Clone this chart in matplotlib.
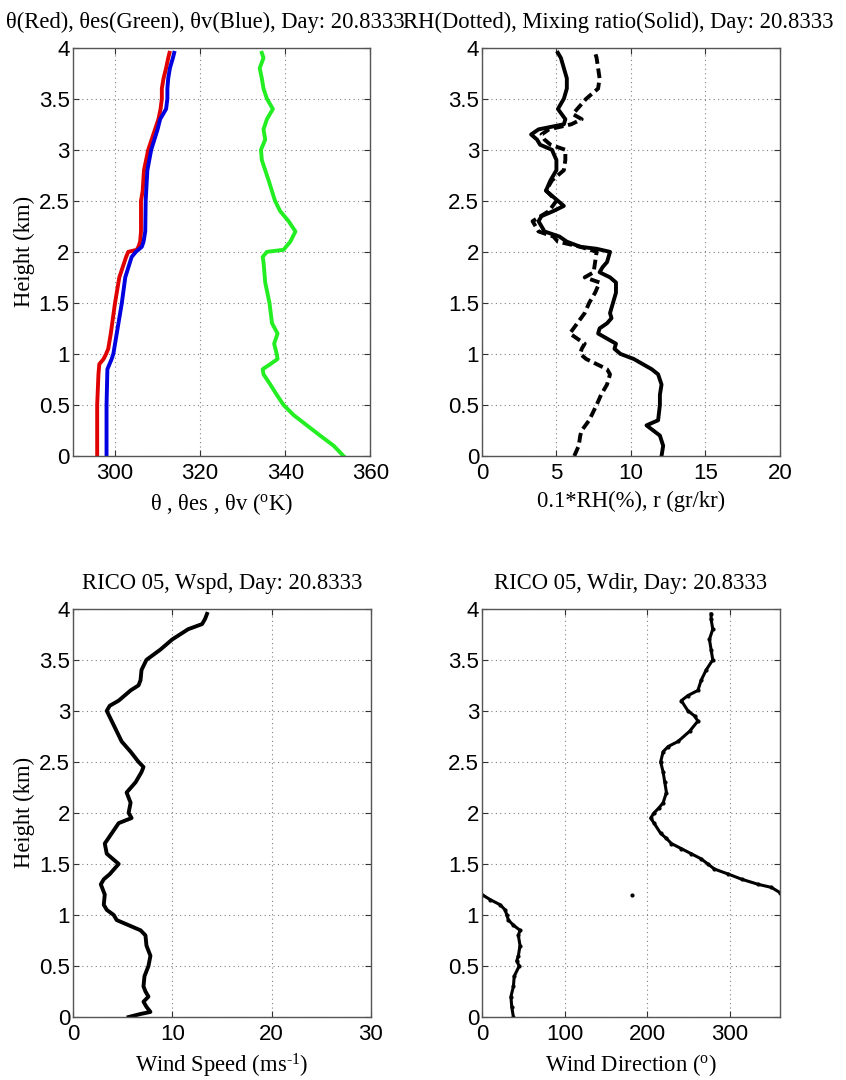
import numpy as np
import matplotlib
matplotlib.use("Agg")
import matplotlib.pyplot as plt
from matplotlib import font_manager
from matplotlib.ticker import FormatStrFormatter

# --- data (height in km) ---
h_theta = [0, 0.5, 0.8, 0.9, 0.95, 1.0, 1.05, 1.2, 1.5, 1.75, 1.95, 2.0, 2.02, 2.05, 2.1,
           2.2, 2.5, 2.6, 2.8, 2.9, 3.0, 3.1, 3.2, 3.3, 3.4, 3.5, 3.6, 3.7, 3.8, 3.9, 3.95]
theta = [295.8, 295.8, 296.1, 296.3, 297.3, 297.9, 298.4, 299.0, 300.0, 301.0, 302.6, 303.1,
         305.1, 305.5, 305.9, 306.1, 306.1, 306.5, 306.8, 307.3, 307.8, 308.6, 309.4, 310.2,
         310.7, 311.0, 311.0, 311.4, 312.0, 312.5, 312.8]

h_thetav = [0, 0.5, 0.85, 0.9, 0.95, 1.0, 1.2, 1.5, 1.75, 1.95, 2.0, 2.05, 2.1, 2.2, 2.5,
            2.8, 3.0, 3.2, 3.3, 3.4, 3.5, 3.6, 3.7, 3.8, 3.9, 3.95]
thetav = [298.0, 298.0, 298.2, 298.7, 299.2, 299.6, 300.4, 301.6, 302.4, 303.9, 304.9, 306.3,
          306.7, 307.1, 307.2, 307.6, 308.5, 310.0, 310.6, 312.0, 312.3, 312.3, 312.5, 312.9,
          313.6, 313.9]

h_thetaes = [0, 0.1, 0.2, 0.3, 0.4, 0.5, 0.6, 0.7, 0.8, 0.85, 0.9, 0.95, 1.0, 1.1, 1.2, 1.3,
             1.5, 1.7, 1.9, 1.95, 2.0, 2.02, 2.1, 2.2, 2.3, 2.4, 2.5, 2.7, 2.9, 3.0, 3.1, 3.2,
             3.3, 3.4, 3.5, 3.6, 3.7, 3.8, 3.9, 3.95]
thetaes = [353.7, 351.4, 348.2, 345.1, 342.0, 339.6, 338.0, 336.5, 334.9, 334.7, 336.5, 338.2,
           338.0, 337.4, 338.2, 336.9, 336.3, 335.3, 334.9, 334.7, 335.7, 339.6, 341.2, 342.4,
           340.8, 338.8, 337.6, 336.1, 334.5, 334.3, 335.3, 334.9, 335.7, 337.1, 335.7, 334.9,
           334.5, 334.0, 334.9, 334.5]

h_mix = [0, 0.1, 0.2, 0.25, 0.3, 0.35, 0.5, 0.6, 0.7, 0.8, 0.85, 0.9, 0.95, 1.0, 1.05, 1.1,
         1.15, 1.2, 1.25, 1.3, 1.35, 1.4, 1.5, 1.6, 1.7, 1.75, 1.8, 1.85, 1.9, 2.0, 2.03, 2.05,
         2.1, 2.15, 2.2, 2.3, 2.35, 2.4, 2.45, 2.5, 2.6, 2.7, 2.8, 2.9, 3.0, 3.05, 3.1, 3.15,
         3.2, 3.25, 3.3, 3.4, 3.5, 3.6, 3.7, 3.8, 3.9, 3.95]
mixr = [12.06, 12.17, 11.95, 11.5, 11.05, 11.83, 11.95, 11.95, 12.06, 11.83, 11.4, 10.8, 10.2,
        9.3, 8.9, 9.0, 8.4, 7.8, 7.9, 8.4, 8.7, 8.6, 8.8, 9.0, 9.0, 8.6, 7.9, 8.1, 8.4, 8.6,
        7.7, 6.6, 5.7, 5.2, 4.2, 3.8, 4.0, 4.8, 5.5, 5.1, 4.3, 4.6, 5.0, 5.0, 4.7, 3.9, 3.7,
        3.3, 3.8, 5.5, 5.6, 5.1, 5.5, 5.7, 5.7, 5.5, 5.3, 5.1]

h_rh = [0, 0.1, 0.2, 0.25, 0.35, 0.5, 0.6, 0.7, 0.8, 0.85, 0.9, 0.95, 1.0, 1.05, 1.1, 1.15,
        1.2, 1.3, 1.4, 1.5, 1.6, 1.7, 1.75, 1.8, 1.9, 2.0, 2.05, 2.1, 2.15, 2.2, 2.3, 2.4, 2.5,
        2.6, 2.7, 2.8, 2.9, 3.0, 3.05, 3.1, 3.15, 3.2, 3.25, 3.3, 3.35, 3.4, 3.5, 3.6, 3.7,
        3.8, 3.9, 3.95]
rh01 = [6.2, 6.5, 6.6, 6.7, 7.2, 7.7, 8.0, 8.4, 8.6, 8.4, 7.7, 7.0, 6.6, 6.7, 6.9, 6.4, 5.9,
        6.4, 6.9, 7.2, 7.6, 7.9, 6.9, 7.5, 7.6, 7.7, 6.6, 5.1, 4.8, 3.8, 3.4, 4.5, 5.0, 4.3,
        4.7, 5.5, 5.6, 5.6, 4.6, 4.2, 4.0, 4.5, 6.0, 6.7, 6.1, 6.4, 7.0, 7.8, 7.9, 7.8, 7.7,
        7.6]

h_wspd = [0, 0.03, 0.05, 0.1, 0.15, 0.2, 0.25, 0.3, 0.4, 0.5, 0.6, 0.7, 0.8, 0.85, 0.9, 0.95,
          1.0, 1.05, 1.1, 1.2, 1.3, 1.35, 1.4, 1.5, 1.6, 1.7, 1.8, 1.9, 1.95, 2.0, 2.1, 2.2,
          2.3, 2.4, 2.45, 2.5, 2.6, 2.7, 2.8, 2.9, 3.0, 3.05, 3.1, 3.2, 3.25, 3.3, 3.4, 3.5,
          3.55, 3.6, 3.7, 3.8, 3.85, 3.9, 3.95]
wspd = [5.6, 6.8, 7.8, 7.4, 7.1, 7.6, 7.3, 7.1, 7.2, 7.6, 7.8, 7.4, 7.3, 6.8, 5.6, 4.4, 4.1,
        3.4, 3.1, 3.2, 2.8, 3.1, 3.7, 4.6, 3.4, 3.2, 3.9, 4.6, 5.9, 5.6, 5.8, 5.4, 6.3, 6.9,
        7.1, 6.6, 5.8, 4.9, 4.4, 3.9, 3.4, 3.7, 4.6, 5.8, 6.6, 6.8, 6.9, 7.4, 8.1, 8.8, 10.0,
        11.6, 13.0, 13.3, 13.5]

h_wdir_low = [0, 0.1, 0.2, 0.3, 0.4, 0.5, 0.55, 0.6, 0.7, 0.8, 0.85, 0.9, 0.95, 1.0, 1.05,
              1.1, 1.15, 1.2]
wdir_low = [38, 36, 35, 38, 39, 45, 42, 44, 46, 44, 46, 38, 32, 30, 28, 22, 10, 0]

h_wdir_high = [1.22, 1.27, 1.3, 1.35, 1.4, 1.45, 1.5, 1.55, 1.6, 1.65, 1.7, 1.75, 1.8, 1.9,
               1.95, 2.0, 2.05, 2.1, 2.2, 2.3, 2.4, 2.5, 2.6, 2.65, 2.7, 2.8, 2.9, 2.95, 3.0,
               3.1, 3.15, 3.2, 3.3, 3.4, 3.5, 3.6, 3.7, 3.8, 3.9, 3.95]
wdir_high = [360, 350, 334, 314, 298, 281, 273, 265, 253, 241, 229, 223, 216, 208, 204, 208,
             214, 219, 223, 221, 219, 216, 219, 225, 237, 251, 261, 257, 249, 241, 249, 261,
             265, 271, 279, 277, 275, 279, 277, 277]

h_wdir_odd = [1.2]
wdir_odd = [181]

day = "20.8333"

# --- fonts ---
names = {f.name for f in font_manager.fontManager.ttflist}
tick_font = "Liberation Sans Narrow" if "Liberation Sans Narrow" in names else "Liberation Sans"
tick_size = 19 if tick_font == "Liberation Sans Narrow" else 16
serif = ["Liberation Serif", "DejaVu Serif"]

plt.rcParams["font.family"] = serif
plt.rcParams["mathtext.fontset"] = "custom"
plt.rcParams["mathtext.rm"] = "Liberation Serif"
plt.rcParams["mathtext.it"] = "Liberation Serif:italic"
plt.rcParams["mathtext.bf"] = "Liberation Serif:bold"

fig = plt.figure(figsize=(8.46, 10.8), dpi=100)

ax_w, ax_h = 0.352, 0.378
ax1 = fig.add_axes([0.0857, 0.5778, ax_w, ax_h])
ax2 = fig.add_axes([0.5697, 0.5778, ax_w, ax_h])
ax3 = fig.add_axes([0.0863, 0.0583, ax_w, ax_h])
ax4 = fig.add_axes([0.5697, 0.0583, ax_w, ax_h])

lab_size = 16.3


def style(ax, xlim, xticks):
    ax.set_xlim(*xlim)
    ax.set_ylim(0, 4)
    ax.set_xticks(xticks)
    ax.set_yticks(np.arange(0, 4.01, 0.5))
    ax.yaxis.set_major_formatter(FormatStrFormatter("%g"))
    ax.grid(True, linestyle=(0, (1, 3)), color="#808080", linewidth=0.8)
    ax.tick_params(direction="in", length=4, width=0.8, top=True, right=True,
                   colors="#333333", labelcolor="black")
    ax.tick_params(axis="x", pad=5)
    ax.tick_params(axis="y", pad=2)
    for lab in ax.get_xticklabels() + ax.get_yticklabels():
        lab.set_fontfamily(tick_font)
        lab.set_fontsize(tick_size)
    for sp in ax.spines.values():
        sp.set_color("#555555")
        sp.set_linewidth(1.0)


# theta panel
ax1.plot(theta, h_theta, color="#e00000", lw=2.8)
ax1.plot(thetav, h_thetav, color="#0000e0", lw=2.8)
ax1.plot(thetaes, h_thetaes, color="#22ee22", lw=2.8)
style(ax1, (290, 360), [300, 320, 340, 360])
ax1.set_title("θ(Red), θes(Green), θv(Blue), Day: " + day, fontsize=lab_size, x=0.445, pad=14)
ax1.set_xlabel(r"θ , θes , θv ($^{\rm o}$K)", fontsize=lab_size, labelpad=5)
ax1.set_ylabel("Height (km)", fontsize=lab_size, labelpad=3)

# moisture panel
ax2.plot(mixr, h_mix, color="black", lw=2.8)
ax2.plot(rh01, h_rh, color="black", lw=2.8, linestyle=(0, (2.5, 1.2)))
style(ax2, (0, 20), [0, 5, 10, 15, 20])
ax2.set_title("RH(Dotted), Mixing ratio(Solid), Day: " + day, fontsize=lab_size, x=0.456, pad=14)
ax2.set_xlabel("0.1*RH(%), r (gr/kr)", fontsize=lab_size, labelpad=5)

# wind speed panel
ax3.plot(wspd, h_wspd, color="black", lw=2.8)
style(ax3, (0, 30), [0, 10, 20, 30])
ax3.set_title("RICO 05, Wspd, Day: " + day, fontsize=lab_size, pad=14)
ax3.set_xlabel(r"Wind Speed (ms$^{\text{-1}}$)", fontsize=lab_size, labelpad=5)
ax3.set_ylabel("Height (km)", fontsize=lab_size, labelpad=3)

# wind direction panel
for xs, ys in [(wdir_low, h_wdir_low), (wdir_high, h_wdir_high)]:
    ax4.plot(xs, ys, color="black", lw=2.2, marker=".", markersize=4)
ax4.plot(wdir_odd, h_wdir_odd, color="black", linestyle="none", marker=".", markersize=4)
style(ax4, (0, 360), [0, 100, 200, 300])
ax4.set_title("RICO 05, Wdir, Day: " + day, fontsize=lab_size, pad=14)
ax4.set_xlabel(r"Wind Direction ($^{\rm o}$)", fontsize=lab_size, labelpad=5)

fig.savefig("out.png", dpi=100)
